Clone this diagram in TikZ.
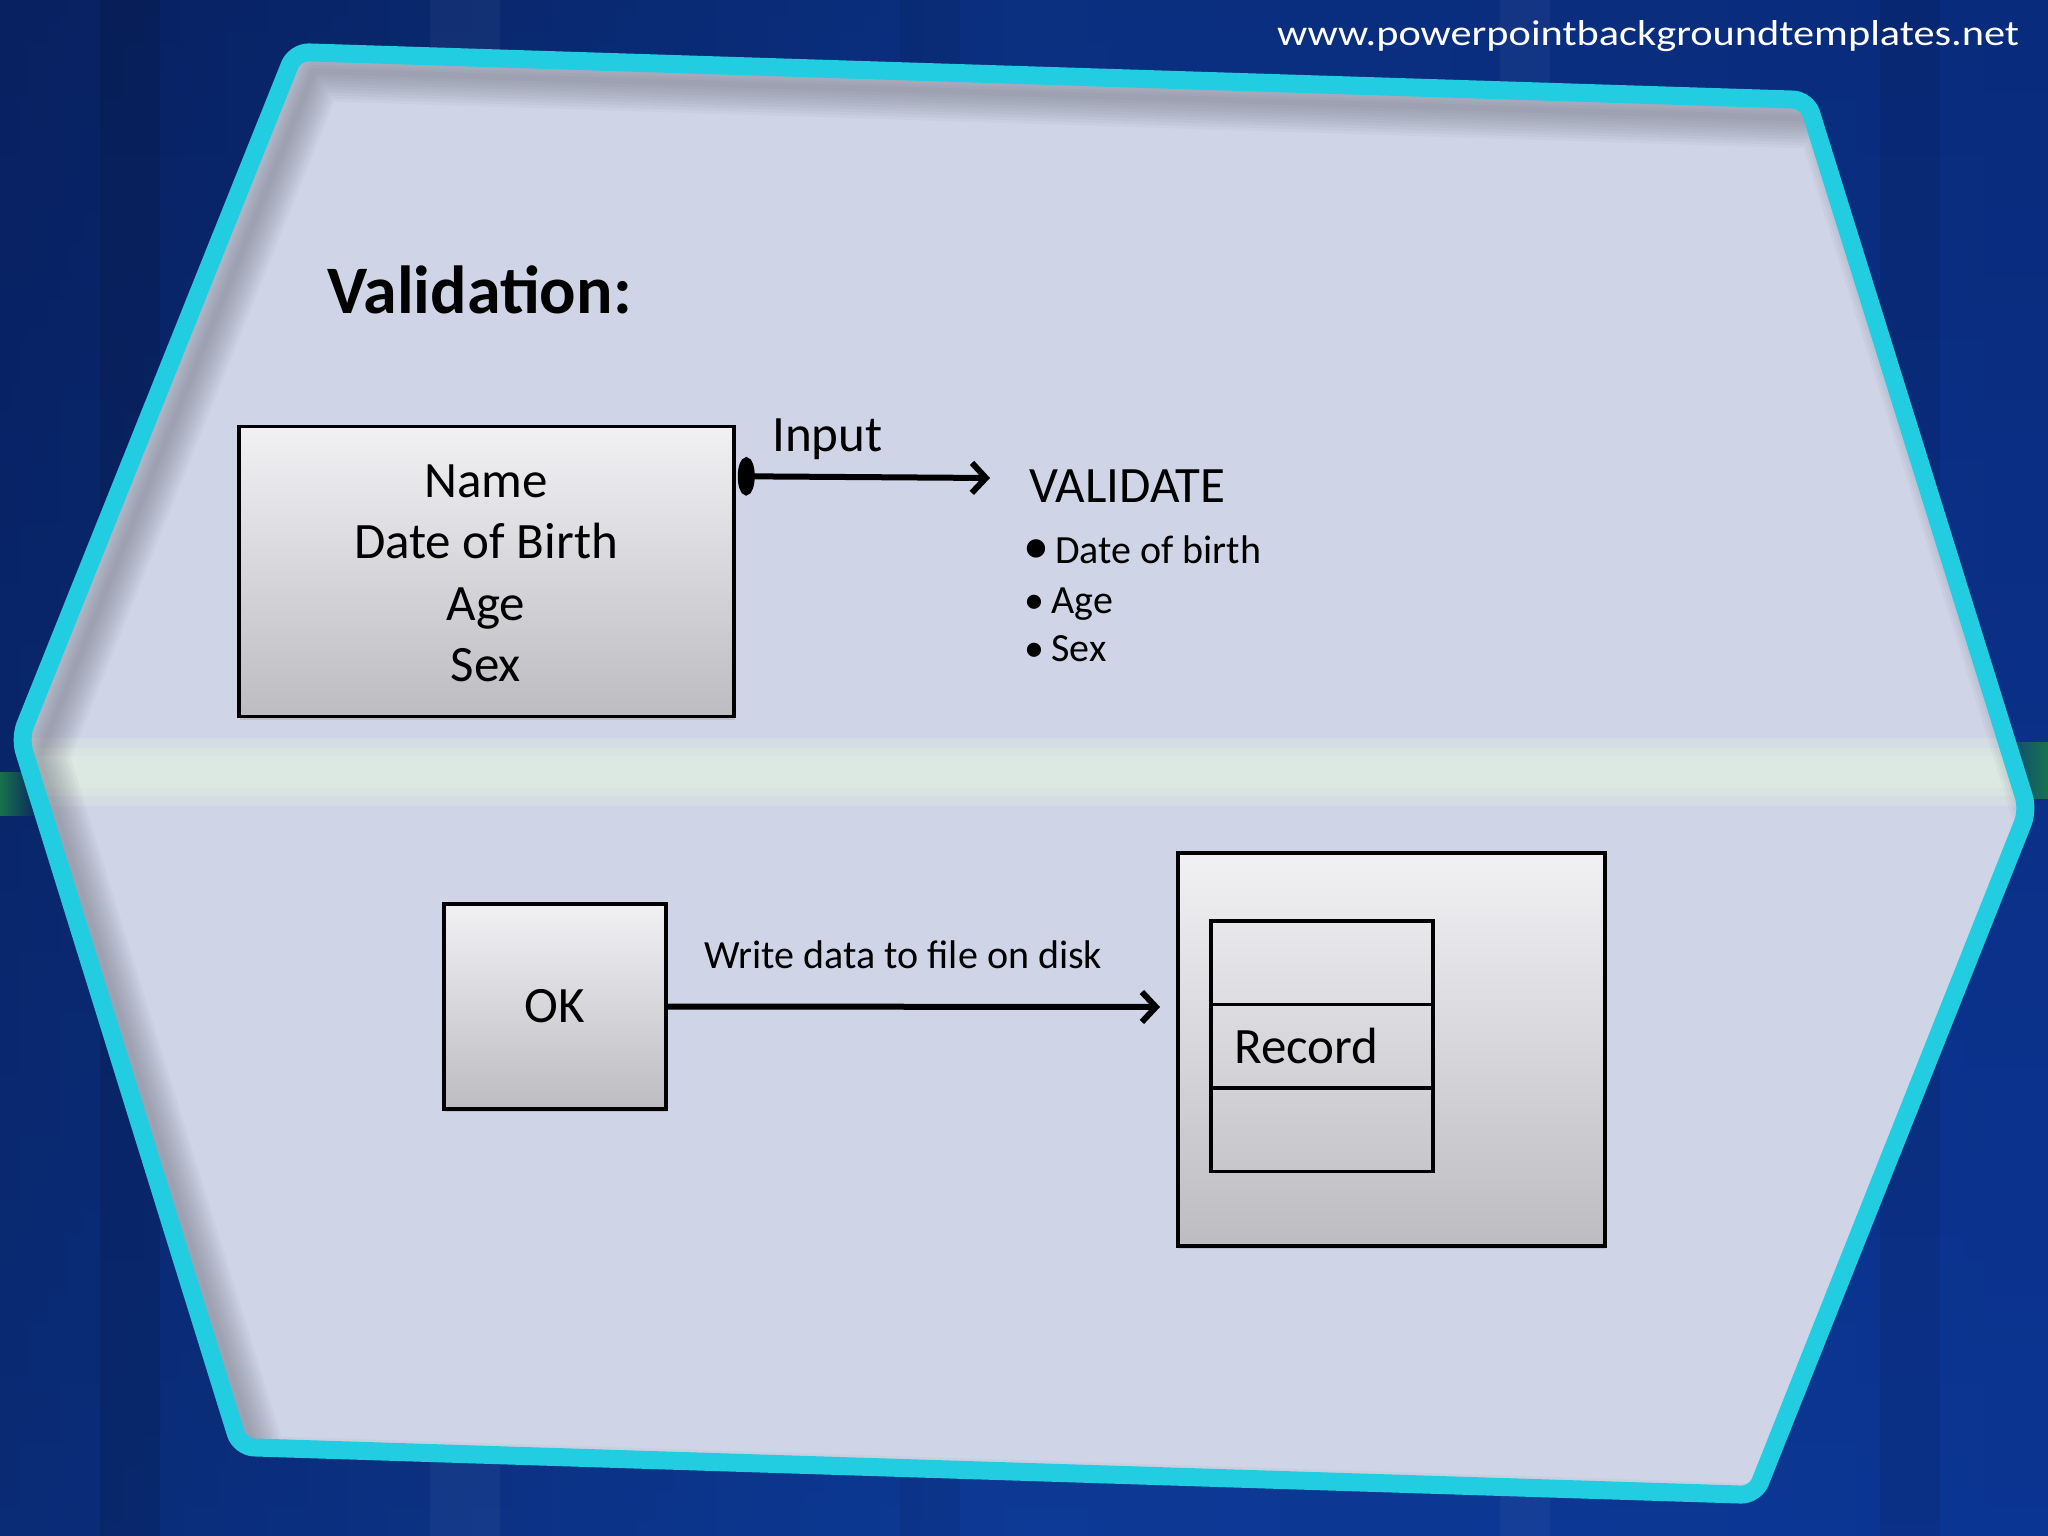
\documentclass[tikz,border=0pt]{standalone}
\usepackage{fontspec}
\usepackage{graphicx}
\setmainfont{Carlito}
\usetikzlibrary{arrows.meta,shadows}
\definecolor{bgdark}{HTML}{082160}
\definecolor{bgmid}{HTML}{0D3A96}
\definecolor{bgright}{HTML}{0B3290}
\definecolor{cyanb}{HTML}{22CDE2}
\definecolor{panel}{HTML}{CFD5E6}
\definecolor{bandc}{HTML}{DFECE2}
\definecolor{shadowc}{HTML}{4E4E60}
\definecolor{boxtop}{HTML}{F1F1F4}
\definecolor{boxbot}{HTML}{BDBCC1}
\definecolor{glow}{HTML}{1A7A4A}
\begin{document}
\begin{tikzpicture}[x=1pt,y=-1pt,
  hexp/.style={insert path={(295,52) -- (1807,100) -- (2028,810) -- (1755,1495) -- (240,1447) -- (20,738) -- cycle}},
  gbox/.style={draw=black, line width=3.5pt, top color=boxtop, bottom color=boxbot, inner sep=0pt,
    drop shadow={shadow xshift=1pt, shadow yshift=-3pt, opacity=0.25}},
  recrow/.style={draw=black, line width=3.5pt, inner sep=0pt, minimum width=222pt, minimum height=83.5pt},
  txt/.style={inner sep=0pt, font=\fontsize{51}{60}\selectfont},
  itemtxt/.style={inner sep=0pt, font=\fontsize{40}{48}\selectfont},
  small/.style={inner sep=0pt, font=\fontsize{40}{48}\selectfont},
  arr/.style={line width=6pt, -{Straight Barb[length=14pt,width=30pt]}},
]
\useasboundingbox (0,0) rectangle (2048,1536);
% background
\shade[left color=bgdark, right color=bgright, middle color=bgmid] (0,0) rectangle (2048,1536);
\shade[top color=bgdark, bottom color=bgmid, opacity=0.4] (0,0) rectangle (2048,1536);
\fill[black, opacity=0.10] (100,0) rectangle (160,1536);
\fill[white, opacity=0.04] (430,0) rectangle (500,1536);
\fill[black, opacity=0.06] (900,0) rectangle (960,1536);
\fill[white, opacity=0.04] (1500,0) rectangle (1550,1536);
\fill[black, opacity=0.08] (1880,0) rectangle (1940,1536);
\shade[left color=glow, right color=bgdark, opacity=0.9] (0,772) rectangle (40,815);
\shade[left color=bgright, right color=glow, opacity=0.9] (1985,742) rectangle (2048,798);
% panel
\begin{scope}
  \path[clip] [hexp];
  \fill[panel] (0,0) rectangle (2048,1536);
  \fill[bandc, opacity=0.35] (0,738) rectangle (2048,806);
  \fill[bandc, opacity=0.5] (0,748) rectangle (2048,796);
  \fill[bandc, opacity=0.5] (0,756) rectangle (2048,788);
  \begin{scope}[shift={(19,19)}]
    \foreach \w in {60,54,48,42,36,30,24,18,12,6}
      \draw[line width=\w pt, draw=shadowc, opacity=0.045, line join=round] [hexp];
  \end{scope}
\end{scope}
\draw[cyanb, line width=18pt, rounded corners=14pt] [hexp];

% url
\node[inner sep=0pt, anchor=base west, text=white, font=\fontsize{36}{42}\selectfont] (url) at (1277,46)
  {\scalebox{1.176}[1]{www.powerpointbackgroundtemplates.net}};

% title
\node[inner sep=0pt, anchor=base west, font=\bfseries\fontsize{68}{80}\selectfont] (title) at (327,313) {Validation:};

% input box
\node[gbox, minimum width=495pt, minimum height=290pt] (inbox) at (486.5,571.5) {};
\node[txt, anchor=base] (n1) at (486,497) {Name};
\node[txt, anchor=base] (n2) at (486,558.5) {Date of Birth};
\node[txt, anchor=base] (n3) at (486,620) {Age};
\node[txt, anchor=base] (n4) at (486,681) {Sex};

% input arrow
\node[txt, anchor=base west] (inlabel) at (772,451) {Input};
\coordinate (inEnd) at (990,478);
\draw[line width=6pt, {Ellipse[length=17pt,width=38pt]}-{Straight Barb[length=14pt,width=30pt]}]
  ([xshift=2pt,yshift=-51.5pt]inbox.north east) -- (inEnd);

% validate list
\node[txt, anchor=base west] (val) at (1029,502) {VALIDATE};
\node[itemtxt, anchor=base west] (v1) at (1023,563) {{\fontsize{52}{52}\selectfont •}\hspace{6pt}Date of birth};
\node[itemtxt, anchor=base west] (v2) at (1024.5,613) {•\hspace{7pt}Age};
\node[itemtxt, anchor=base west] (v3) at (1024.5,661) {•\hspace{7pt}Sex};

% OK box and write arrow
\node[gbox, txt, minimum width=222pt, minimum height=205pt] (okbox) at (555,1006.5) {OK};
\node[small, anchor=base west] (wlabel) at (704,968) {Write data to file on disk};
\coordinate (wEnd) at (1160,1007);
\draw[arr] (okbox.east) -- (wEnd);

% disk
\node[gbox, minimum width=427pt, minimum height=393pt] (disk) at (1391.5,1049.5) {};
\node[recrow] (r1) at (1322,962.5) {};
\node[recrow] (r2) at (1322,1046) {};
\node[recrow] (r3) at (1322,1129.5) {};
\node[txt, anchor=base west] (rec) at (1234,1063) {Record};
\end{tikzpicture}
\end{document}
